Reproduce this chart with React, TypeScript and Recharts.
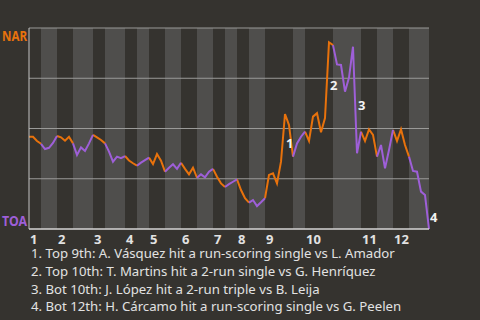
import React from 'react';
import { LineChart, Line, XAxis, YAxis, ReferenceArea, ReferenceLine, ReferenceDot } from 'recharts';

const BG = '#35332f';
const BAND = '#4f4e4c';
const ORANGE = '#e8720c';
const PURPLE = '#9e5fd8';
const TEXT = '#e2e2e2';
const FONT = '"Noto Sans", "Open Sans", sans-serif';

// NAR win probability (%) after each plate appearance
const winProb = [
  45.9, 45.9, 43.8, 42.4, 39.8, 40.4, 42.8, 46.3, 45.6, 43.9,
  45.9, 42.6, 36.8, 40.6, 38.8, 42.6, 46.8, 45.6, 44.3, 42.6,
  38.5, 33.5, 36.0, 35.2, 36.3, 34.1, 32.7, 31.5, 33.0, 34.3,
  35.5, 32.3, 37.3, 34.0, 28.5, 30.5, 32.2, 29.9, 33.0, 29.9,
  27.2, 30.5, 25.5, 27.2, 25.7, 28.5, 29.9, 26.0, 22.7, 20.9,
  22.3, 23.5, 24.7, 19.4, 15.3, 13.1, 14.4, 11.4, 13.3, 15.3,
  26.9, 27.7, 22.7, 33.5, 57.2, 51.7, 36.0, 42.6, 45.9, 48.4,
  43.8, 55.9, 57.6, 48.1, 55.2, 92.9, 91.5, 81.9, 81.6, 68.3,
  75.3, 90.7, 37.7, 48.4, 43.8, 49.6, 46.8, 36.0, 41.8, 30.2,
  39.3, 49.3, 43.8, 49.6, 41.8, 36.0, 28.9, 28.5, 18.6, 16.9,
  0,
];

// plate appearances per half inning: [top, bottom] for innings 1..12
const halfInnings = [
  [3, 4], [4, 5], [3, 5], [3, 3], [4, 4], [4, 4],
  [3, 3], [3, 4], [7, 3], [7, 7], [4, 4], [4, 5],
];

const inningLabels = ['1', '2', '3', '4', '5', '6', '7', '8', '9', '10', '11', '12'];

const events = [
  { pa: 64, label: '1', note: '1. Top 9th: A. Vásquez hit a run-scoring single vs L. Amador' },
  { pa: 75, label: '2', note: '2. Top 10th: T. Martins hit a 2-run single vs G. Henríquez' },
  { pa: 82, label: '3', note: '3. Bot 10th: J. López hit a 2-run triple vs B. Leija' },
  { pa: 100, label: '4', note: '4. Bot 12th: H. Cárcamo hit a run-scoring single vs G. Peelen' },
];

// half-inning ranges in plate-appearance index
const ranges: { start: number; end: number; top: boolean }[] = [];
let cursor = 0;
halfInnings.forEach(([t, b]) => {
  ranges.push({ start: cursor, end: cursor + t, top: true });
  cursor += t;
  ranges.push({ start: cursor, end: cursor + b, top: false });
  cursor += b;
});
const inningStarts = ranges.filter((r) => r.top).map((r) => r.start);

const rows = winProb.map((wp, pa) => {
  const inTop = ranges.some((r) => r.top && pa >= r.start && pa <= r.end);
  const inBot = ranges.some((r) => !r.top && pa >= r.start && pa <= r.end);
  return { pa, top: inTop ? wp : null, bot: inBot ? wp : null };
});

const InningTick = (props: any) => {
  const { x, y, payload } = props;
  const idx = inningStarts.indexOf(payload.value);
  return (
    <text x={x + 1} y={y + 15} textAnchor="start" fill={TEXT} fontSize={13} fontWeight="bold" fontFamily={FONT}>
      {inningLabels[idx]}
    </text>
  );
};

const TeamTick = (props: any) => {
  const { y, payload } = props;
  const isNar = payload.value === 100;
  return (
    <text
      x={2}
      y={isNar ? y + 13 : y - 3}
      textAnchor="start"
      fill={isNar ? ORANGE : PURPLE}
      fontSize={15}
      fontWeight="bold"
      fontFamily={FONT}
      textLength={25}
      lengthAdjust="spacingAndGlyphs"
    >
      {isNar ? 'NAR' : 'TOA'}
    </text>
  );
};

const EventLabel = (props: any) => {
  const vb = props.viewBox || {};
  return (
    <text x={vb.x + 3} y={vb.y + 10} fill="#f2f2f2" fontSize={13} fontWeight="bold" fontFamily={FONT}>
      {props.text}
    </text>
  );
};

export default function App() {
  return (
    <div style={{ position: 'fixed', left: 0, top: 0, width: 480, height: 320, background: BG, overflow: 'hidden' }}>
      <LineChart width={480} height={250} data={rows} margin={{ top: 28, right: 51, bottom: 0, left: 0 }}>
        {ranges
          .filter((r) => !r.top)
          .map((r) => (
            <ReferenceArea key={r.start} x1={r.start} x2={r.end} fill={BAND} fillOpacity={1} stroke="none" />
          ))}
        {[25, 50, 75, 100].map((v) => (
          <ReferenceLine key={v} y={v} stroke="#9a9a98" strokeWidth={1} />
        ))}
        <XAxis
          type="number"
          dataKey="pa"
          domain={[0, 100]}
          ticks={inningStarts}
          interval={0}
          tick={<InningTick />}
          tickLine={false}
          tickSize={0}
          tickMargin={0}
          height={21}
          axisLine={{ stroke: '#d4d4d4', strokeWidth: 1.5 }}
        />
        <YAxis
          type="number"
          domain={[0, 100]}
          ticks={[0, 100]}
          interval={0}
          width={29}
          tick={<TeamTick />}
          tickLine={false}
          tickSize={0}
          tickMargin={2}
          axisLine={{ stroke: '#c4c4c4' }}
        />
        <Line dataKey="top" stroke={ORANGE} strokeWidth={2} dot={false} isAnimationActive={false} connectNulls={false} />
        <Line dataKey="bot" stroke={PURPLE} strokeWidth={2} dot={false} isAnimationActive={false} connectNulls={false} />
        {events.map((e) => (
          <ReferenceDot
            key={e.label}
            x={e.pa - 0.5}
            y={(winProb[e.pa - 1] + winProb[e.pa]) / 2}
            r={0}
            fill="none"
            stroke="none"
            label={<EventLabel text={e.label} />}
          />
        ))}
      </LineChart>
      <div
        style={{
          position: 'absolute',
          left: 31,
          top: 245,
          fontFamily: FONT,
          fontSize: 13.2,
          lineHeight: '17.8px',
          color: TEXT,
          whiteSpace: 'nowrap',
        }}
      >
        {events.map((e) => (
          <div key={e.label}>{e.note}</div>
        ))}
      </div>
    </div>
  );
}
